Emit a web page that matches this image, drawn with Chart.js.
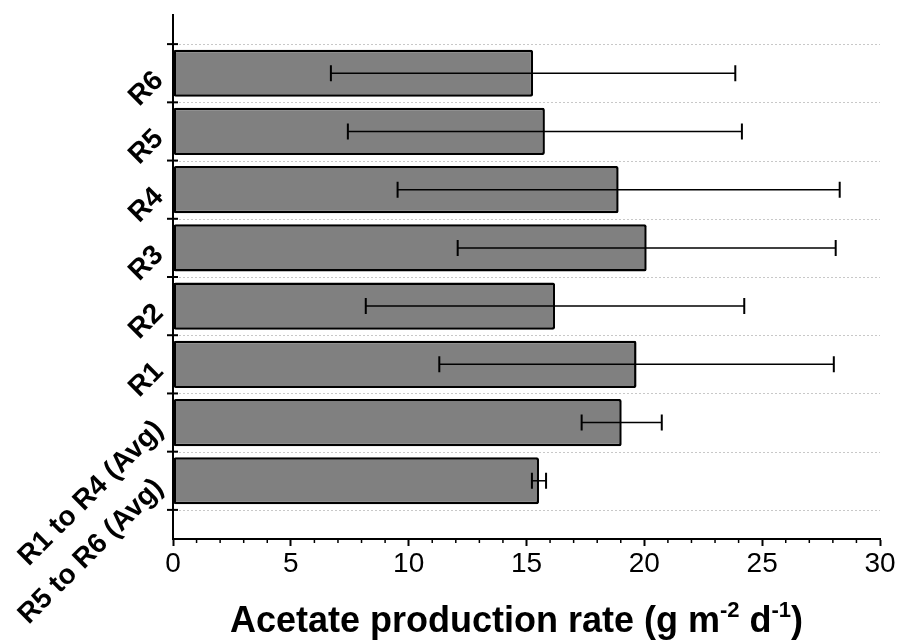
<!DOCTYPE html>
<html><head><meta charset="utf-8">
<script src="https://cdn.jsdelivr.net/npm/chart.js@4.4.0/dist/chart.umd.min.js"></script>
<style>html,body{margin:0;padding:0;background:#fff;}#wrap{width:900px;height:640px;}</style>
</head><body><div id="wrap"><canvas id="c" width="900" height="640"></canvas></div>
<script>
const categories = ['R5 to R6 (Avg)', 'R1 to R4 (Avg)', 'R1', 'R2', 'R3', 'R4', 'R5', 'R6'];
const positions = [1, 2, 3, 4, 5, 6, 7, 8];
const rates = [15.53, 19.04, 19.67, 16.21, 20.10, 18.91, 15.78, 15.28];
const errors = [0.30, 1.70, 8.37, 8.03, 8.02, 9.38, 8.36, 8.58];
const xMajorTicks = [0, 5, 10, 15, 20, 25, 30];
const xMinorTicks = [1, 2, 3, 4, 6, 7, 8, 9, 11, 12, 13, 14, 16, 17, 18, 19, 21, 22, 23, 24, 26, 27, 28, 29];
const yBoundaries = [0.5, 1.5, 2.5, 3.5, 4.5, 5.5, 6.5, 7.5, 8.5];

const FONT = '"Liberation Sans", Arial, Helvetica, sans-serif';

const decor = {
  id: 'decor',
  beforeDatasetsDraw(chart) {
    const {ctx, chartArea: a, scales: {y}} = chart;
    ctx.save();
    ctx.strokeStyle = '#c8c8c8';
    ctx.lineWidth = 1;
    ctx.setLineDash([2, 2]);
    yBoundaries.forEach(v => {
      const py = Math.round(y.getPixelForValue(v)) + 0.5;
      ctx.beginPath(); ctx.moveTo(a.left + 2, py); ctx.lineTo(a.right, py); ctx.stroke();
    });
    ctx.restore();
  },
  afterDatasetsDraw(chart) {
    const {ctx, scales: {x, y}} = chart;
    ctx.save();
    ctx.strokeStyle = '#000';
    positions.forEach((p, i) => {
      const py = y.getPixelForValue(p);
      const x1 = x.getPixelForValue(rates[i] - errors[i]);
      const x2 = x.getPixelForValue(rates[i] + errors[i]);
      ctx.lineWidth = 1.5;
      ctx.beginPath(); ctx.moveTo(x1, py); ctx.lineTo(x2, py); ctx.stroke();
      ctx.lineWidth = 2;
      ctx.beginPath();
      ctx.moveTo(x1, py - 8); ctx.lineTo(x1, py + 8);
      ctx.moveTo(x2, py - 8); ctx.lineTo(x2, py + 8);
      ctx.stroke();
    });
    ctx.restore();
  },
  afterDraw(chart) {
    const {ctx, chartArea: a, scales: {x, y}} = chart;
    ctx.save();
    ctx.strokeStyle = '#000';
    ctx.lineWidth = 2;
    yBoundaries.forEach(v => {
      const py = y.getPixelForValue(v);
      ctx.beginPath(); ctx.moveTo(a.left - 6, py); ctx.lineTo(a.left + 5, py); ctx.stroke();
    });
    ctx.lineWidth = 1.5;
    xMinorTicks.forEach(v => {
      const px = x.getPixelForValue(v);
      ctx.beginPath(); ctx.moveTo(px, a.bottom); ctx.lineTo(px, a.bottom + 4); ctx.stroke();
    });
    ctx.fillStyle = '#000';
    ctx.font = 'bold 28px ' + FONT;
    ctx.textAlign = 'right';
    ctx.textBaseline = 'middle';
    categories.forEach((lab, i) => {
      const py = y.getPixelForValue(positions[i]);
      ctx.save();
      ctx.translate(a.left - 14, py + 3);
      ctx.rotate(-Math.PI / 4);
      ctx.fillText(lab, 0, 0);
      ctx.restore();
    });
    const parts = [['Acetate production rate (g m', false], ['-2', true], [' d', false], ['-1', true], [')', false]];
    const mainFont = 'bold 36px ' + FONT, supFont = 'bold 22px ' + FONT;
    let total = 0;
    parts.forEach(([t, s]) => { ctx.font = s ? supFont : mainFont; total += ctx.measureText(t).width; });
    let cx = (a.left + a.right) / 2 - total / 2 - 10;
    const base = 632;
    ctx.textAlign = 'left';
    ctx.textBaseline = 'alphabetic';
    parts.forEach(([t, s]) => {
      ctx.font = s ? supFont : mainFont;
      ctx.fillText(t, cx, s ? base - 15 : base);
      cx += ctx.measureText(t).width;
    });
    ctx.restore();
  }
};

new Chart(document.getElementById('c'), {
  type: 'bar',
  data: {
    datasets: [{
      data: positions.map((p, i) => ({x: rates[i], y: p})),
      backgroundColor: '#808080',
      borderColor: '#000',
      borderWidth: 2.5,
      borderRadius: 2,
      borderSkipped: false,
      barPercentage: 0.81,
      categoryPercentage: 1
    }]
  },
  options: {
    indexAxis: 'y',
    responsive: false,
    animation: false,
    layout: {padding: {top: 15, right: 20, left: 0, bottom: 0}},
    plugins: {legend: {display: false}, tooltip: {enabled: false}, title: {display: false}},
    scales: {
      x: {
        type: 'linear', min: 0, max: 30,
        afterBuildTicks: s => { s.ticks = xMajorTicks.map(v => ({value: v})); },
        afterFit: s => { s.height = 101; },
        grid: {display: true, drawOnChartArea: false, drawTicks: true, tickLength: 7, tickColor: '#000', tickWidth: 2},
        border: {display: true, color: '#000', width: 2},
        ticks: {color: '#000', font: {family: FONT, size: 28}, padding: 1, maxRotation: 0}
      },
      y: {
        type: 'linear', min: 0, max: 9, offset: false,
        afterBuildTicks: s => { s.ticks = yBoundaries.map(v => ({value: v})); },
        afterFit: s => { s.width = 173; },
        grid: {display: false},
        border: {display: true, color: '#000', width: 2},
        ticks: {display: false}
      }
    }
  },
  plugins: [decor]
});
</script>
</body></html>
